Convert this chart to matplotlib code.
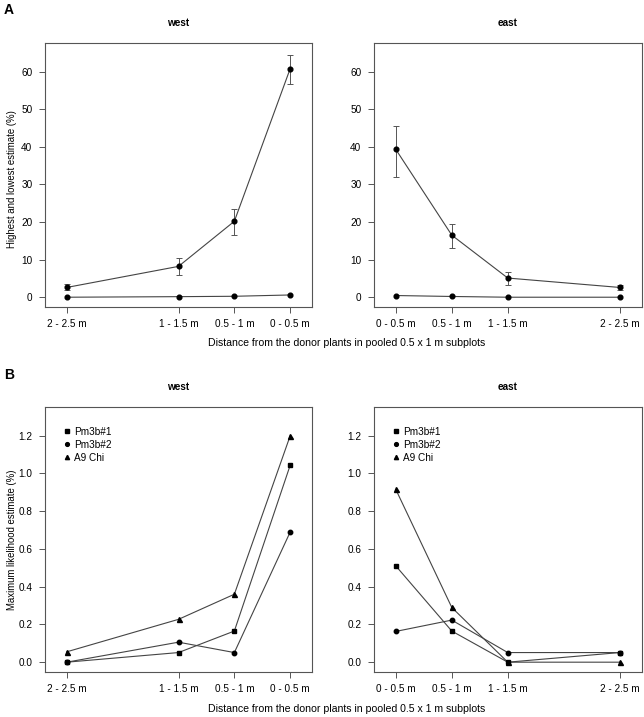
import matplotlib
matplotlib.use("Agg")
import matplotlib.pyplot as plt
import numpy as np

plt.rcParams['font.family'] = ['Liberation Sans', 'DejaVu Sans']

# ---------------- data ----------------
west_labels = ["2 - 2.5 m", "1 - 1.5 m", "0.5 - 1 m", "0 - 0.5 m"]
west_pos = [1, 3, 4, 5]
east_labels = ["0 - 0.5 m", "0.5 - 1 m", "1 - 1.5 m", "2 - 2.5 m"]
east_pos = [1, 2, 3, 5]

# Panel A: highest estimate with error bars, lowest estimate
west_high = [2.6, 8.2, 20.2, 60.8]
west_high_lo = [1.8, 5.9, 16.5, 56.6]
west_high_hi = [3.4, 10.3, 23.4, 64.5]
west_low = [0.0, 0.15, 0.25, 0.6]

east_high = [39.3, 16.5, 5.1, 2.6]
east_high_lo = [32.1, 13.2, 3.3, 1.8]
east_high_hi = [45.6, 19.6, 6.8, 3.3]
east_low = [0.45, 0.2, 0.0, 0.0]

# Panel B: maximum likelihood estimates
series_names = ["Pm3b#1", "Pm3b#2", "A9 Chi"]
west_pm3b1 = [0.0, 0.051, 0.165, 1.044]
west_pm3b2 = [0.0, 0.106, 0.051, 0.69]
west_a9chi = [0.055, 0.227, 0.36, 1.2]
east_pm3b1 = [0.51, 0.165, 0.0, 0.051]
east_pm3b2 = [0.163, 0.223, 0.051, 0.051]
east_a9chi = [0.915, 0.29, 0.0, 0.0]

# ---------------- figure ----------------
W, H = 644, 717
fig = plt.figure(figsize=(W / 100, H / 100), dpi=100)

def ax_at(l, t, r, b):
    return fig.add_axes([l / W, 1 - b / H, (r - l) / W, (b - t) / H])

line_col = "#444444"
spine_col = "#555555"
fs = 7.2

def style(ax, pos, labels, ylim, yticks, ytl):
    ax.set_xlim(0.61, 5.39)
    ax.set_ylim(*ylim)
    ax.set_xticks(pos)
    ax.set_xticklabels(labels, fontsize=fs)
    ax.set_yticks(yticks)
    ax.set_yticklabels(ytl, fontsize=fs)
    for s in ax.spines.values():
        s.set_color(spine_col)
        s.set_linewidth(0.8)
    ax.tick_params(direction='out', length=4, width=0.7, color=spine_col, pad=5)

axA_w = ax_at(45, 43, 312, 307)
axA_e = ax_at(374, 43, 641.5, 307)
axB_w = ax_at(45, 407, 312, 672)
axB_e = ax_at(374, 407, 641.5, 672)

ylimA = (-2.6, 67.6)
ytA = [0, 10, 20, 30, 40, 50, 60]
for ax, pos, labels, hi, lo_e, hi_e, low in [
        (axA_w, west_pos, west_labels, west_high, west_high_lo, west_high_hi, west_low),
        (axA_e, east_pos, east_labels, east_high, east_high_lo, east_high_hi, east_low)]:
    hi = np.array(hi); lo_e = np.array(lo_e); hi_e = np.array(hi_e)
    ax.errorbar(pos, hi, yerr=[hi - lo_e, hi_e - hi], fmt='none', ecolor='#555555',
                elinewidth=0.7, capsize=2, capthick=0.7, zorder=2)
    ax.plot(pos, hi, '-', color=line_col, lw=0.8, zorder=3)
    ax.plot(pos, hi, 'o', color='black', ms=3.4, zorder=4)
    ax.plot(pos, low, '-', color=line_col, lw=0.8, zorder=3)
    ax.plot(pos, low, 'o', color='black', ms=3.4, zorder=4)
    style(ax, pos, labels, ylimA, ytA, [str(v) for v in ytA])

ylimB = (-0.052, 1.352)
ytB = [0.0, 0.2, 0.4, 0.6, 0.8, 1.0, 1.2]
markers = ['s', 'o', '^']
msz = [3.0, 3.2, 3.6]
for ax, pos, labels, data in [
        (axB_w, west_pos, west_labels, [west_pm3b1, west_pm3b2, west_a9chi]),
        (axB_e, east_pos, east_labels, [east_pm3b1, east_pm3b2, east_a9chi])]:
    handles = []
    for vals, m, s, name in zip(data, markers, msz, series_names):
        ax.plot(pos, vals, '-', color=line_col, lw=0.8, zorder=3)
        h, = ax.plot(pos, vals, m, color='black', ms=s, zorder=4, label=name)
        handles.append(h)
    style(ax, pos, labels, ylimB, ytB, ["%.1f" % v for v in ytB])
    leg = ax.legend(handles=handles, loc='upper left', bbox_to_anchor=(0.07, 0.925),
                    frameon=False, fontsize=fs, handlelength=0.6, handletextpad=0.45,
                    labelspacing=0.3, borderaxespad=0, borderpad=0, markerscale=0.85)

# titles
for ax in (axA_w, axB_w):
    ax.set_title("west", fontsize=fs, fontweight='bold', pad=12)
for ax in (axA_e, axB_e):
    ax.set_title("east", fontsize=fs, fontweight='bold', pad=12)

fig.text(12 / W, 1 - 179 / H, "Highest and lowest estimate (%)", fontsize=6.9,
         rotation=90, ha='center', va='center')
fig.text(12 / W, 1 - 540 / H, "Maximum likelihood estimate (%)", fontsize=6.9,
         rotation=90, ha='center', va='center')

xl = "Distance from the donor plants in pooled 0.5 x 1 m subplots"
fig.text(346.5 / W, 1 - 343 / H, xl, fontsize=7.6, ha='center', va='center')
fig.text(346.5 / W, 1 - 709 / H, xl, fontsize=7.6, ha='center', va='center')

fig.text(4 / W, 1 - 10 / H, "A", fontsize=10, fontweight='bold', ha='left', va='center')
fig.text(4 / W, 1 - 375 / H, "B", fontsize=10, fontweight='bold', ha='left', va='center')

fig.savefig("out.png", dpi=100)
